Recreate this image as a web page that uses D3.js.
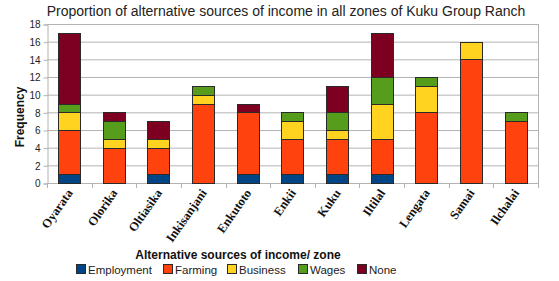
<!DOCTYPE html>
<html><head><meta charset="utf-8">
<script src="https://cdn.jsdelivr.net/npm/d3@7"></script>
<style>body{margin:0;background:#fff}svg{display:block}</style>
</head><body>
<svg id="c" width="559" height="281"></svg>
<script>
const zones = ["Oyarata","Olorika","Oltiasika","Inkisanjani","Enkutoto","Enkii","Kuku","Iltilal","Lengata","Samai","Ilchalai"];
const seriesNames = ["Employment","Farming","Business","Wages","None"];
const employment = [1,0,1,0,1,1,1,1,0,0,0];
const farming    = [5,4,3,9,7,4,4,4,8,14,7];
const business   = [2,1,1,1,0,2,1,4,3,2,0];
const wages      = [1,2,0,1,0,1,2,3,1,0,1];
const none       = [8,1,2,0,1,0,3,5,0,0,0];
const yTicks = [0,2,4,6,8,10,12,14,16,18];
const colors = ["#004586","#ff420e","#ffd320","#579d1c","#7e0021"];

const seriesVals = [employment, farming, business, wages, none];
const rows = zones.map((z,i)=>{const o={zone:z}; seriesNames.forEach((s,j)=>o[s]=seriesVals[j][i]); return o;});
const stack = d3.stack().keys(seriesNames)(rows);

const svg = d3.select("#c");
const L=47, R=538, T=24, B=183;
const x = d3.scaleBand().domain(zones).range([L,R]).paddingInner(0.5).paddingOuter(0.25);
const y = d3.scaleLinear().domain([0,18]).range([B,T]);

// grid
svg.append("g").selectAll("line").data(yTicks).join("line")
  .attr("x1",L).attr("x2",R).attr("y1",d=>y(d)+0.5).attr("y2",d=>y(d)+0.5)
  .attr("stroke","#b3b3b3").attr("stroke-width",1);
svg.append("line").attr("x1",R+0.5).attr("x2",R+0.5).attr("y1",T).attr("y2",B).attr("stroke","#b3b3b3");

// y axis
const ya = svg.append("g").attr("transform",`translate(${L+0.5},0.5)`)
  .call(d3.axisLeft(y).tickValues(yTicks).tickSize(4).tickPadding(3));
ya.select(".domain").attr("stroke","#b3b3b3");
ya.selectAll(".tick line").attr("stroke","#b3b3b3");
ya.selectAll("text").attr("font-family","Liberation Sans, Arial, sans-serif").attr("font-size",10).attr("fill","#222");

// x axis bottom line and ticks at boundaries
const bounds = d3.range(zones.length+1).map(i=>L + i*(R-L)/zones.length);
svg.append("line").attr("x1",L).attr("x2",R+1).attr("y1",B+0.5).attr("y2",B+0.5).attr("stroke","#b3b3b3");
svg.append("g").selectAll("line").data(bounds).join("line")
  .attr("x1",d=>Math.round(d)+0.5).attr("x2",d=>Math.round(d)+0.5).attr("y1",B).attr("y2",B+5)
  .attr("stroke","#b3b3b3");

// bars
svg.append("g").selectAll("g").data(stack).join("g").attr("fill",(d,i)=>colors[i])
  .selectAll("rect").data(d=>d.filter(p=>p[1]-p[0]>0)).join("rect")
  .attr("x",d=>Math.round(x(d.data.zone))+0.5).attr("width",Math.round(x.bandwidth()))
  .attr("y",d=>Math.round(y(d[1]))+0.5).attr("height",d=>Math.round(y(d[0]))-Math.round(y(d[1])))
  .attr("stroke","#2a2a2a").attr("stroke-width",1);

// x labels
svg.append("g").selectAll("text").data(zones).join("text")
  .attr("transform",d=>`translate(${x(d)+x.bandwidth()/2+4},${B+10}) rotate(-55)`)
  .attr("text-anchor","end").attr("font-family","Liberation Serif, Times New Roman, serif")
  .attr("font-weight","bold").attr("font-size",12.5).attr("fill","#111").text(d=>d);

// title
svg.append("text").attr("x",286).attr("y",16).attr("text-anchor","middle")
  .attr("font-family","Liberation Sans, Arial, sans-serif").attr("font-size",14).attr("fill","#222")
  .text("Proportion of alternative sources of income in all zones of Kuku Group Ranch");

// y title
svg.append("text").attr("transform","translate(24,117) rotate(-90)").attr("text-anchor","middle")
  .attr("font-family","Liberation Sans, Arial, sans-serif").attr("font-weight","bold").attr("font-size",12).attr("fill","#111")
  .text("Frequency");

// x title
svg.append("text").attr("x",238).attr("y",259).attr("text-anchor","middle")
  .attr("font-family","Liberation Sans, Arial, sans-serif").attr("font-weight","bold").attr("font-size",12).attr("fill","#111")
  .text("Alternative sources of income/ zone");

// legend
const legX = [76,163,227,298,357];
const lg = svg.append("g").selectAll("g").data(seriesNames).join("g")
  .attr("transform",(d,i)=>`translate(${legX[i]},264)`);
lg.append("rect").attr("x",0.5).attr("y",0.5).attr("width",9).attr("height",9)
  .attr("fill",(d,i)=>colors[i]).attr("stroke","#2a2a2a");
lg.append("text").attr("x",12).attr("y",9.5).attr("font-family","Liberation Sans, Arial, sans-serif")
  .attr("font-size",11.5).attr("fill","#222").text(d=>d);
</script>
</body></html>
